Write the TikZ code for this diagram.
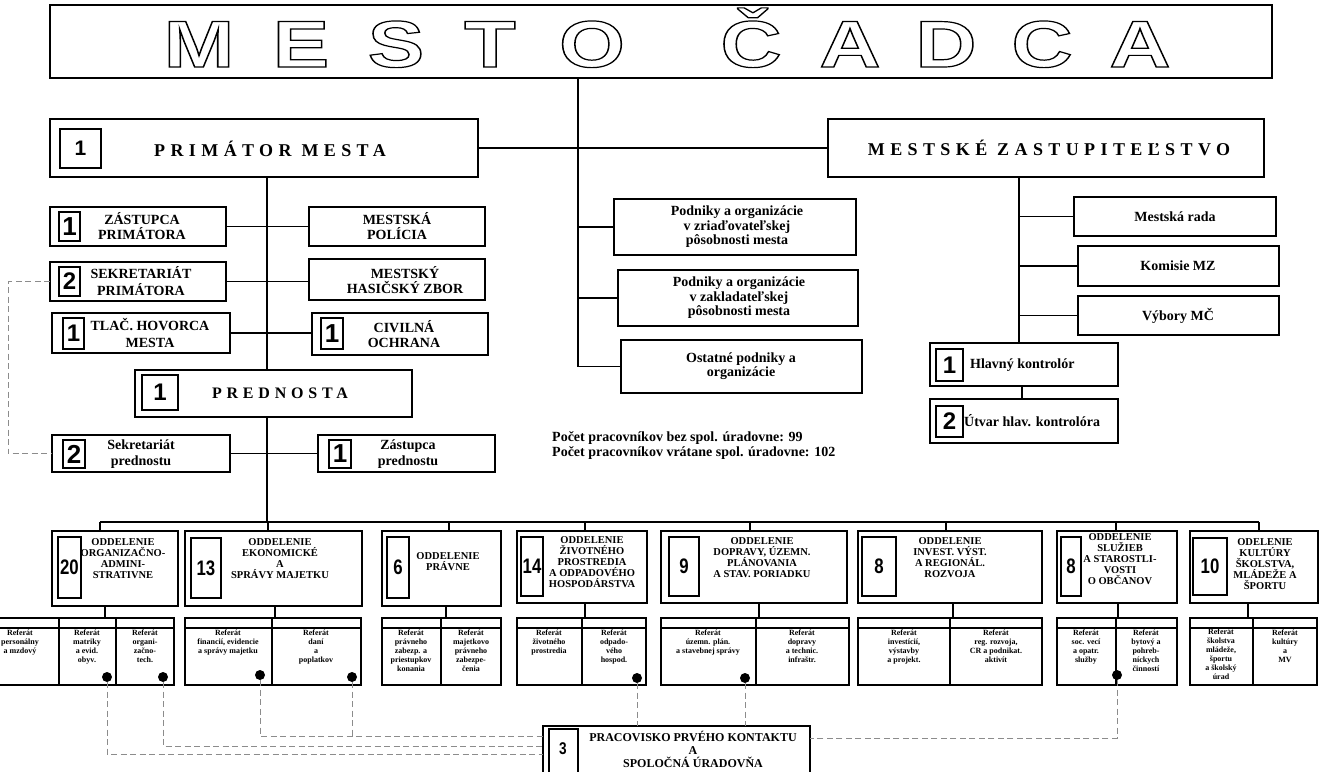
\documentclass[tikz,border=0pt]{standalone}
\usepackage{fontspec}
\usepackage{graphicx}
\setmainfont{Liberation Serif}
\newfontfamily\numfont{Liberation Sans}
\newfontfamily\spacedfont[LetterSpace=30]{Liberation Serif}
\usetikzlibrary{calc}
\newcommand\outl[1]{\special{pdf:literal direct 1 Tr 1.2 w}#1\special{pdf:literal direct 0 Tr 1 w}}
\tikzset{
  bx/.style={draw, line width=1.2pt, fill=white, inner sep=0pt, outer sep=0pt},
  ln/.style={line width=1.2pt},
  dsh/.style={draw=black!45, line width=1pt, dash pattern=on 6pt off 3.5pt},
  num/.style={font=\numfont\bfseries\fontsize{#1}{#1}\selectfont},
  num/.default=22,
  ttl/.style={anchor=base, inner sep=0pt, font=\numfont\bfseries\fontsize{66}{66}\selectfont},
  sp/.style={inner sep=0pt, font=\spacedfont\bfseries\fontsize{18}{18}\selectfont},
  txt/.style={font=\bfseries\fontsize{14}{14.5}\selectfont, align=center, inner sep=0pt},
  ctxt/.style={font=\bfseries\fontsize{14}{15.5}\selectfont, align=center, inner sep=0pt},
  dtxt/.style={font=\bfseries\fontsize{10.5}{11}\selectfont, align=center, inner sep=0pt},
  rtxt/.style={font=\bfseries\fontsize{8}{9}\selectfont, align=center, inner sep=0pt, anchor=north},
  dot/.style={circle, fill=black, inner sep=0pt, minimum size=10pt},
}
\newcommand\rb[5]{\node[bx,anchor=north west,minimum width={((#3)-(#1))*1pt},minimum height={((#4)-(#2))*1pt}] (#5) at (#1,#2) {};}
\newcommand\nb[7][22]{\node[bx,num=#1,anchor=north west,minimum width={((#4)-(#2))*1pt},minimum height={((#5)-(#3))*1pt}] (#6) at (#2,#3) {#7};}
\newcommand\drop[2]{\coordinate (#1j) at (#2,522); \draw[ln] (#1j) -- (#1j |- #1.north);}
\newcommand\grp[6]{%
  \rb{#2}{618}{#3}{685}{#1}
  \draw[ln] ($(#1.north west)+(0,10)$) -- ($(#1.north east)+(0,10)$);
  \coordinate (#1v) at (#4,0);
  \draw[ln] (#1.north -| #1v) -- (#1.south -| #1v);
  \coordinate (#1d) at (#6,0);
  \draw[ln] (#5.south -| #1d) -- (#1.north -| #1d);
}
\begin{document}
\begin{tikzpicture}[x=1pt,y=-1pt]
\useasboundingbox (0,0) rectangle (1322,771);
\fill[white] (0,0) rectangle (1322,771);

% ---------- title
\rb{50}{5}{1272}{78}{title}
\foreach \l/\x [count=\i] in {M/199,E/301,S/396,T/490,O/592,Č/751,A/850,D/946,C/1042,A/1140}
  \node[ttl] (t\i) at (\x,67) {\outl{\scalebox{1.28}[1]{\l}}};

% ---------- top level
\rb{50}{119}{478}{177}{prim}
\nb[21]{60}{129}{101}{168}{primn}{1}
\node[sp] (primt) at (270,149) {PRIMÁTOR MESTA};
\rb{828}{119}{1264}{177}{mz}
\node[sp] (mzt) at (1049,148) {MESTSKÉ ZASTUPITEĽSTVO};
\draw[ln] (prim.east) -- (mz.west);

% ---------- left column
\rb{50}{207}{226}{246}{zp}
\nb[26]{59}{212}{80}{241}{zpn}{1}
\node[ctxt] (zpt) at (142,226) {ZÁSTUPCA\\PRIMÁTORA};
\rb{309}{207}{485}{246}{mp}
\node[ctxt] (mpt) at (397,226) {MESTSKÁ\\POLÍCIA};
\rb{50}{262}{226}{301}{sp}
\nb[24]{59}{267}{80}{296}{spn}{2}
\node[ctxt] (spt) at (141,281) {SEKRETARIÁT\\[1pt]PRIMÁTORA};
\rb{309}{259}{485}{300}{hz}
\node[ctxt] (hzt) at (405,280) {MESTSKÝ\\HASIČSKÝ ZBOR};
\rb{52}{313}{230}{353}{th}
\nb[24]{63}{318}{84}{349}{thn}{1}
\node[ctxt] (tht) at (150,333) {TLAČ. HOVORCA\\[1pt]MESTA};
\rb{312}{313}{488}{355}{co}
\nb[26]{321}{318}{343}{349}{con}{1}
\node[ctxt] (cot) at (404,334) {CIVILNÁ\\OCHRANA};
\rb{135}{370}{412}{417}{pred}
\nb[24]{142}{375}{178}{410}{predn}{1}
\node[sp, font=\spacedfont\bfseries\fontsize{16}{16}\selectfont] (predt) at (280,393) {PREDNOSTA};
\rb{52}{435}{230}{472}{spd}
\nb[26]{63}{440}{85}{468}{spdn}{2}
\node[ctxt] (spdt) at (141,454) {Sekretariát\\prednostu};
\rb{318}{435}{495}{472}{zpr}
\nb[26]{329}{440}{351}{468}{zprn}{1}
\node[ctxt] (zprt) at (408,454) {Zástupca\\prednostu};

\coordinate (px) at (267,0);
\draw[ln] (prim.south -| px) -- (pred.north -| px);
\draw[ln] (zp.east) -- (mp.west);
\draw[ln] (sp.east) -- (sp.east -| hz.west);
\draw[ln] (th.east) -- (th.east -| co.west);
\draw[ln] (spd.east) -- (spd.east -| zpr.west);
\coordinate (dl) at (8,0);
\draw[dsh] (sp.west) -- (sp.west -| dl) |- (spd.west);

% ---------- middle column
\rb{614}{199}{856}{255}{pod1}
\node[txt] (pod1t) at (737,227) {Podniky a organizácie\\v zriaďovateľskej\\pôsobnosti mesta};
\rb{618}{270}{858}{326}{pod2}
\node[txt] (pod2t) at (739,298) {Podniky a organizácie\\v zakladateľskej\\pôsobnosti mesta};
\rb{621}{340}{862}{393}{ost}
\node[txt] (ostt) at (741,366) {Ostatné podniky a\\organizácie};
\coordinate (mx) at (578,0);
\draw[ln] (title.south -| mx) |- (ost.west);
\draw[ln] (pod1.west -| mx) -- (pod1.west);
\draw[ln] (pod2.west -| mx) -- (pod2.west);
\node[font=\bfseries\fontsize{14}{15}\selectfont, align=left, anchor=north west, inner sep=0pt] (cnt) at (552,431)
  {Počet pracovníkov bez spol. úradovne: 99\\Počet pracovníkov vrátane spol. úradovne: 102};

% ---------- right column
\rb{1074}{197}{1276}{236}{mr}
\node[txt] (mrt) at (1175,217) {Mestská rada};
\rb{1078}{246}{1279}{286}{km}
\node[txt] (kmt) at (1178,266) {Komisie MZ};
\rb{1078}{296}{1279}{335}{vb}
\node[txt] (vbt) at (1178,316) {Výbory MČ};
\rb{930}{343}{1118}{386}{hk}
\nb[24]{936}{349}{963}{381}{hkn}{1}
\node[txt, anchor=west] (hkt) at (970,365) {Hlavný kontrolór};
\rb{930}{399}{1118}{443}{uk}
\nb[24]{936}{406}{963}{437}{ukn}{2}
\node[txt, anchor=west] (ukt) at (964,421) {Útvar hlav. kontrolóra};
\coordinate (rx) at (1019,0);
\draw[ln] (mz.south -| rx) -- (hk.north -| rx);
\draw[ln] (mr.west -| rx) -- (mr.west);
\draw[ln] (km.west -| rx) -- (km.west);
\draw[ln] (vb.west -| rx) -- (vb.west);
\coordinate (ux) at (1022,0);
\draw[ln] (hk.south -| ux) -- (uk.north -| ux);

% ---------- departments
\rb{52}{531}{178}{606}{d1}
\nb[21]{58}{537}{81}{598}{d1n}{\scalebox{0.8}[1]{20}}
\node[dtxt] (d1t) at (123,559) {ODDELENIE\\ORGANIZAČNO-\\ADMINI-\\STRATIVNE};
\rb{185}{531}{362}{606}{d2}
\nb[21]{191}{538}{221}{598}{d2n}{\scalebox{0.8}[1]{13}}
\node[dtxt] (d2t) at (280,559) {ODDELENIE\\EKONOMICKÉ\\A\\SPRÁVY MAJETKU};
\rb{382}{531}{501}{606}{d3}
\nb[21]{387}{537}{409}{598}{d3n}{\scalebox{0.8}[1]{6}}
\node[dtxt] (d3t) at (448,562) {ODDELENIE\\PRÁVNE};
\rb{517}{531}{647}{603}{d4}
\nb[21]{521}{537}{543}{596}{d4n}{\scalebox{0.8}[1]{14}}
\node[dtxt] (d4t) at (592,562) {ODDELENIE\\ŽIVOTNÉHO\\PROSTREDIA\\A ODPADOVÉHO\\HOSPODÁRSTVA};
\rb{661}{531}{847}{603}{d5}
\nb[21]{669}{537}{699}{596}{d5n}{\scalebox{0.8}[1]{9}}
\node[dtxt] (d5t) at (762,558) {ODDELENIE\\DOPRAVY, ÚZEMN.\\PLÁNOVANIA\\A STAV. PORIADKU};
\rb{858}{531}{1042}{603}{d6}
\nb[21]{862}{537}{896}{596}{d6n}{\scalebox{0.8}[1]{8}}
\node[dtxt] (d6t) at (950,558) {ODDELENIE\\INVEST. VÝST.\\A REGIONÁL.\\ROZVOJA};
\rb{1057}{531}{1177}{603}{d7}
\nb[21]{1061}{537}{1081}{596}{d7n}{\scalebox{0.8}[1]{8}}
\node[dtxt] (d7t) at (1120,559) {ODDELENIE\\SLUŽIEB\\A STAROSTLI-\\VOSTI\\O OBČANOV};
\rb{1190}{531}{1318}{603}{d8}
\nb[21]{1193}{538}{1227}{595}{d8n}{\scalebox{0.8}[1]{10}}
\node[dtxt] (d8t) at (1265,564) {ODELENIE\\KULTÚRY\\ŠKOLSTVA,\\MLÁDEŽE A\\ŠPORTU};

\coordinate (busL) at (100,522);
\coordinate (busR) at (1259,522);
\draw[ln] (pred.south -| px) -- (busL -| px);
\draw[ln] (busL) -- (busR);
\drop{d1}{100}
\drop{d2}{268}
\drop{d3}{449}
\drop{d4}{585}
\drop{d5}{750}
\drop{d6}{946}
\drop{d7}{1116}
\drop{d8}{1259}

% ---------- referat groups
\grp{g1}{-19}{174}{59}{d1}{105}
\coordinate (g1w) at (116,0);
\draw[ln] (g1.north -| g1w) -- (g1.south -| g1w);
\grp{g2}{185}{361}{272}{d2}{275}
\grp{g3}{382}{501}{441}{d3}{446}
\grp{g4}{517}{646}{582}{d4}{585}
\grp{g5}{661}{849}{756}{d5}{759}
\grp{g6}{858}{1042}{950}{d6}{953}
\grp{g7}{1057}{1177}{1116}{d7}{1118}
\grp{g8}{1190}{1317}{1253}{d8}{1248}

\node[rtxt] (r1) at (20,630) {Referát\\personálny\\a mzdový};
\node[rtxt] (r2) at (87,630) {Referát\\matriky\\a evid.\\obyv.};
\node[rtxt] (r3) at (145,630) {Referát\\organi-\\začno-\\tech.};
\node[rtxt] (r4) at (228,630) {Referát\\financií, evidencie\\a správy majetku};
\node[rtxt] (r5) at (316,630) {Referát\\daní\\a\\poplatkov};
\node[rtxt] (r6) at (411,630) {Referát\\právneho\\zabezp. a\\priestupkov\\konania};
\node[rtxt] (r7) at (471,630) {Referát\\majetkovo\\právneho\\zabezpe-\\čenia};
\node[rtxt] (r8) at (549,630) {Referát\\životného\\prostredia};
\node[rtxt] (r9) at (614,630) {Referát\\odpado-\\vého\\hospod.};
\node[rtxt] (r10) at (708,630) {Referát\\územn. plán.\\a stavebnej správy};
\node[rtxt] (r11) at (802,630) {Referát\\dopravy\\a technic.\\infraštr.};
\node[rtxt] (r12) at (904,630) {Referát\\investícií,\\výstavby\\a projekt.};
\node[rtxt] (r13) at (996,630) {Referát\\reg. rozvoja,\\CR a podnikat.\\aktivít};
\node[rtxt] (r14) at (1086,630) {Referát\\soc. vecí\\a opatr.\\služby};
\node[rtxt] (r15) at (1146,630) {Referát\\bytový a\\pohreb-\\níckych\\činností};
\node[rtxt] (r16) at (1221,629) {Referát\\školstva\\mládeže,\\športu\\a školský\\úrad};
\node[rtxt] (r17) at (1285,630) {Referát\\kultúry\\a\\MV};

% ---------- PPK
\rb{543}{726}{810}{795}{ppk}
\rb{549}{729}{578}{795}{ppkn}
\node[num=17] (ppkd) at (563,749) {\scalebox{0.8}[1]{3}};
\node[font=\bfseries\fontsize{12}{13}\selectfont, align=center, inner sep=0pt] (ppkt) at (693,749)
  {PRACOVISKO PRVÉHO KONTAKTU\\A\\SPOLOČNÁ ÚRADOVŇA};

\node[dot] (k1) at (107,677) {};
\node[dot] (k2) at (163,677) {};
\node[dot] (k3) at (260,675) {};
\node[dot] (k4) at (352,677) {};
\node[dot] (k5) at (637,678) {};
\node[dot] (k6) at (745,678) {};
\node[dot] (k7) at (1117,675) {};
\coordinate (h1) at (0,754);
\coordinate (h2) at (0,746);
\coordinate (h3) at (0,736);
\coordinate (h7) at (0,738);
\draw[dsh] (k1) |- (h1 -| ppk.west);
\draw[dsh] (k2) |- (h2 -| ppk.west);
\draw[dsh] (k3) |- (h3 -| ppk.west);
\draw[dsh] (k4) -- (k4 |- h3);
\draw[dsh] (k5) -- (k5 |- ppk.north);
\draw[dsh] (k6) -- (k6 |- ppk.north);
\draw[dsh] (k7) |- (h7 -| ppk.east);
\end{tikzpicture}
\end{document}
